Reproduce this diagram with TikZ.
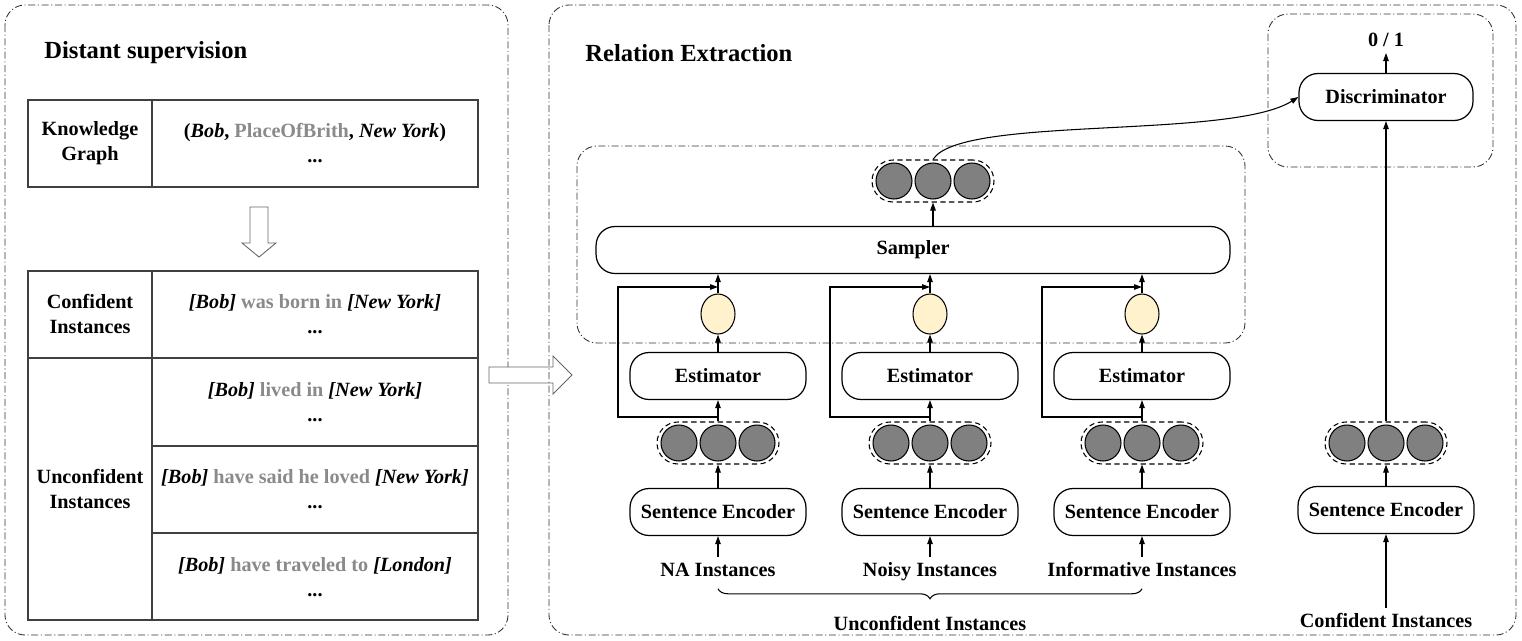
\documentclass[tikz,border=0pt]{standalone}
\usepackage{fontspec}
\setmainfont{Liberation Serif}
\usepackage{tikz}
\usetikzlibrary{arrows.meta, positioning, shapes, decorations.pathreplacing}
\definecolor{unitgray}{HTML}{808080}
\definecolor{gatefill}{HTML}{FFF2CC}
\definecolor{textgray}{HTML}{8A8A8A}
\newcommand{\hvec}[2]{%
  \node[vecbox] (#1) at (#2) {};
  \foreach \dx in {-39,0,39}
    \node[unit, xshift=\dx*0.02cm] at (#1) {};
}
\newcommand{\gr}[1]{\textcolor{textgray}{#1}}

\begin{document}
\begin{tikzpicture}[x=0.02cm, y=-0.02cm,
    every node/.style={font=\fontsize{11.5}{14}\selectfont\bfseries},
    title/.style={anchor=west, inner sep=0pt, font=\fontsize{14}{16}\selectfont\bfseries},
    block/.style={rectangle, draw, rounded corners=0.38cm, line width=0.7pt, minimum width=3.52cm, minimum height=0.94cm},
    panel/.style={draw=black!80, line width=0.5pt, rounded corners=0.4cm, dash pattern=on 4pt off 1.5pt on 0.6pt off 1.5pt},
    vecbox/.style={draw, dash pattern=on 3pt off 2pt, line width=0.6pt, rounded corners=0.42cm, minimum width=2.44cm, minimum height=0.84cm},
    unit/.style={circle, draw, fill=unitgray, minimum size=0.72cm, inner sep=0pt, line width=0.6pt},
    gate/.style={ellipse, draw, fill=gatefill, minimum width=0.68cm, minimum height=0.8cm, inner sep=0pt, line width=0.6pt},
    inst/.style={text height=1.7ex, text depth=0.3ex},
    arrow/.style={-{Triangle[length=1.6mm, width=1.1mm]}, line width=0.6pt},
    cell/.style={draw=black!75, line width=0.6pt},
    hollow/.style={draw=black!60, line width=0.5pt, fill=white}
]
    \useasboundingbox (0,0) rectangle (1522,640);

    % distant supervision
    \draw[panel] (5,5) rectangle (508,635);
    \node[title] (dstitle) at (44,53) {Distant supervision};

    \draw[cell] (28,100) rectangle (478,187);
    \draw[cell] (152,100) -- (152,187);
    \node[align=center] (kg) at (90,143) {Knowledge\\Graph};
    \node[align=center] (triple) at (315,143) {(\textit{Bob}, \gr{PlaceOfBrith}, \textit{New York})\\...};

    \draw[hollow] (250,207) -- (268,207) -- (268,243) -- (276,243) -- (259,257) -- (242,243) -- (250,243) -- cycle;

    \draw[cell] (28,271) rectangle (478,620);
    \draw[cell] (152,271) -- (152,620);
    \draw[cell] (28,358) -- (478,358);
    \draw[cell] (152,446) -- (478,446);
    \draw[cell] (152,533) -- (478,533);
    \node[align=center] (conf) at (90,314) {Confident\\Instances};
    \node[align=center] (unconf) at (90,489) {Unconfident\\Instances};
    \node[align=center] (sent1) at (315,314) {\textit{[Bob]} \gr{was born in} \textit{[New York]}\\...};
    \node[align=center] (sent2) at (315,402) {\textit{[Bob]} \gr{lived in} \textit{[New York]}\\...};
    \node[align=center] (sent3) at (315,489) {\textit{[Bob]} \gr{have said he loved} \textit{[New York]}\\...};
    \node[align=center] (sent4) at (315,577) {\textit{[Bob]} \gr{have traveled to} \textit{[London]}\\...};

    \draw[hollow] (489,367) -- (553,367) -- (553,356) -- (572,375) -- (553,394) -- (553,383) -- (489,383) -- cycle;

    % relation extraction
    \draw[panel] (549,5) rectangle (1516,635);
    \node[title] (retitle) at (585,53) {Relation Extraction};
    \draw[panel] (577,146) rectangle (1245,343);
    \draw[panel] (1268,14) rectangle (1493,167);

    \node[block, minimum width=12.68cm] (sampler) at (913,250) {Sampler};
    \hvec{vtop}{933,181}
    \draw[arrow] (sampler.north -| vtop) -- (vtop);

    % NA column
    \node[block] (estA) at (718,376) {Estimator};
    \node[gate] (gateA) at (718,314) {};
    \hvec{vecA}{718,443}
    \node[block] (encA) at (718,512) {Sentence Encoder};
    \node[inst] (naA) at (718,571) {NA Instances};
    \coordinate (forkA) at (718,417);
    \coordinate (joinA) at (718,287);
    \draw[arrow] (naA) -- (encA);
    \draw[arrow] (encA) -- (vecA);
    \draw[arrow] (vecA) -- (estA);
    \draw[arrow] (estA) -- (gateA);
    \draw[arrow] (gateA) -- (gateA |- sampler.south);
    \draw[arrow] (forkA) -- ++(-100,0) |- (joinA);

    % noisy column
    \node[block] (estB) at (930,376) {Estimator};
    \node[gate] (gateB) at (930,314) {};
    \hvec{vecB}{930,443}
    \node[block] (encB) at (930,512) {Sentence Encoder};
    \node[inst] (naB) at (930,571) {Noisy Instances};
    \coordinate (forkB) at (930,417);
    \coordinate (joinB) at (930,287);
    \draw[arrow] (naB) -- (encB);
    \draw[arrow] (encB) -- (vecB);
    \draw[arrow] (vecB) -- (estB);
    \draw[arrow] (estB) -- (gateB);
    \draw[arrow] (gateB) -- (gateB |- sampler.south);
    \draw[arrow] (forkB) -- ++(-100,0) |- (joinB);

    % informative column
    \node[block] (estC) at (1142,376) {Estimator};
    \node[gate] (gateC) at (1142,314) {};
    \hvec{vecC}{1142,443}
    \node[block] (encC) at (1142,512) {Sentence Encoder};
    \node[inst] (naC) at (1142,571) {Informative Instances};
    \coordinate (forkC) at (1142,417);
    \coordinate (joinC) at (1142,287);
    \draw[arrow] (naC) -- (encC);
    \draw[arrow] (encC) -- (vecC);
    \draw[arrow] (vecC) -- (estC);
    \draw[arrow] (estC) -- (gateC);
    \draw[arrow] (gateC) -- (gateC |- sampler.south);
    \draw[arrow] (forkC) -- ++(-100,0) |- (joinC);

    \draw[decorate, decoration={brace, mirror, amplitude=0.2cm}, line width=0.6pt]
        ([yshift=-2pt]naA.south) -- ([yshift=-2pt]naC.south);
    \node (unconfall) at (930,623) {Unconfident Instances};

    % discriminator column
    \node[block, minimum width=3.48cm] (disc) at (1386,97) {Discriminator};
    \node (out) at (1386,40) {0 / 1};
    \hvec{vecD}{1386,443}
    \node[block] (encD) at (1386,510) {Sentence Encoder};
    \node[inst] (confD) at (1386,622) {Confident Instances};
    \draw[arrow] (confD) -- (encD);
    \draw[arrow] (encD) -- (vecD);
    \draw[arrow] (vecD) -- (disc);
    \draw[arrow] (disc) -- (out);
    \draw[arrow] (vtop.north) .. controls (960,115) and (1230,140) .. (disc.west);
\end{tikzpicture}
\end{document}
